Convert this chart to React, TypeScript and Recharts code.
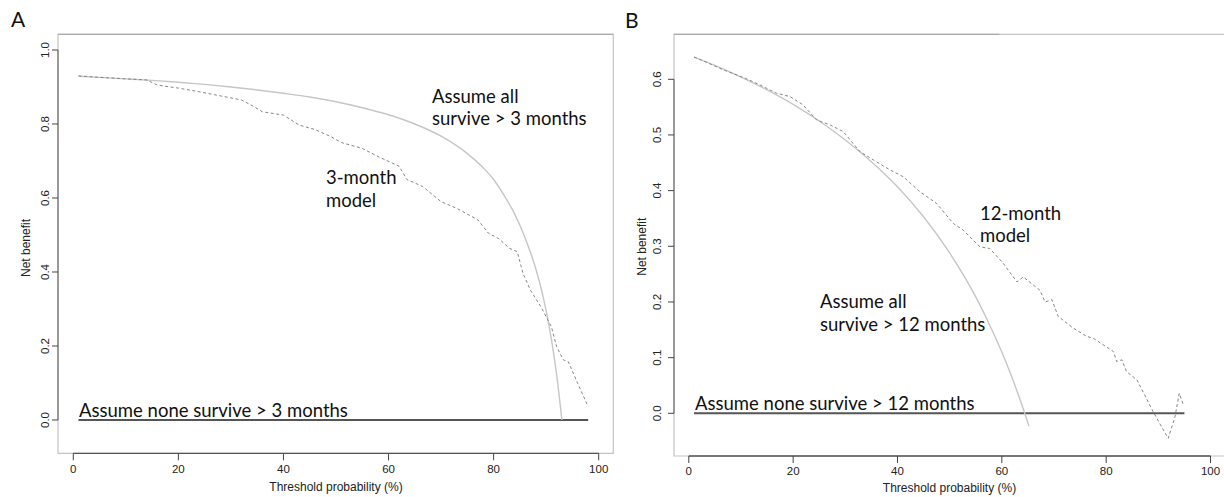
import React from "react";
import { LineChart, Line, XAxis, YAxis, ReferenceArea, ReferenceLine } from "recharts";

// ---------- Panel A (3-month) ----------
const thresholdA_all = [1, 5, 10, 15, 20, 25, 30, 35, 40, 45, 50, 55, 60, 65, 70, 75, 78, 80, 82, 84, 86, 88, 89, 90, 91, 92, 93];
const netBenefitA_all = [0.929, 0.926, 0.922, 0.918, 0.913, 0.907, 0.9, 0.892, 0.883, 0.873, 0.86, 0.844, 0.825, 0.8, 0.767, 0.72, 0.682, 0.65, 0.607, 0.557, 0.492, 0.41, 0.358, 0.295, 0.218, 0.122, 0.0];

const thresholdA_model = [1, 5, 10, 14, 16, 20, 24, 28, 32, 34, 36, 40, 43, 46, 49, 51, 55, 58, 62, 63.5, 66.5, 70, 73, 77, 79, 81, 83, 84.5, 85.6, 87, 89, 91, 92, 93.3, 94.2, 96, 98];
const netBenefitA_model = [0.93, 0.926, 0.922, 0.919, 0.905, 0.897, 0.887, 0.876, 0.865, 0.85, 0.833, 0.824, 0.797, 0.785, 0.766, 0.75, 0.734, 0.712, 0.686, 0.65, 0.631, 0.59, 0.572, 0.541, 0.505, 0.49, 0.464, 0.455, 0.396, 0.351, 0.306, 0.252, 0.198, 0.162, 0.158, 0.099, 0.036];

const thresholdA_none = [1, 98];
const netBenefitA_none = [0, 0];

const xTicksA = [0, 20, 40, 60, 80, 100];
const yTicksA = [0, 0.2, 0.4, 0.6, 0.8, 1.0];

// ---------- Panel B (12-month) ----------
const thresholdB_all = [1, 5, 10, 15, 20, 25, 30, 35, 40, 45, 50, 55, 58, 60, 62, 64, 65.2];
const netBenefitB_all = [0.64, 0.625, 0.604, 0.581, 0.555, 0.525, 0.491, 0.452, 0.407, 0.353, 0.288, 0.209, 0.152, 0.11, 0.063, 0.011, -0.023];

const thresholdB_model = [1, 4, 6.6, 10.8, 13.6, 16.8, 19.4, 21.9, 24.5, 27.1, 29.6, 32.8, 35.4, 38.6, 41.1, 44.3, 47.5, 50.7, 52.6, 55.8, 57.7, 60.3, 62.9, 64.1, 67.3, 68.3, 69.6, 70.8, 73.7, 76.3, 77.5, 81.4, 82, 83, 83.9, 85.9, 89, 90.6, 91.9, 93.2, 94, 94.8];
const netBenefitB_model = [0.64, 0.628, 0.617, 0.602, 0.59, 0.575, 0.569, 0.554, 0.527, 0.518, 0.506, 0.47, 0.455, 0.437, 0.425, 0.398, 0.377, 0.341, 0.329, 0.299, 0.296, 0.269, 0.236, 0.245, 0.221, 0.2, 0.204, 0.174, 0.153, 0.138, 0.135, 0.111, 0.093, 0.096, 0.075, 0.06, 0.003, -0.024, -0.045, -0.006, 0.036, 0.015];

const thresholdB_none = [1, 95];
const netBenefitB_none = [0, 0];

const xTicksB = [0, 20, 40, 60, 80, 100];
const yTicksB = [0, 0.1, 0.2, 0.3, 0.4, 0.5, 0.6];

const toRows = (xs: number[], ys: number[]) => xs.map((x, i) => ({ x, y: ys[i] }));

const TICK_FONT = "'Liberation Sans', Arial, sans-serif";
const ANN_FONT = "Lato, 'Open Sans', sans-serif";

const makeYTick = (dx: number) => (props: any) => {
  const { x, y, payload } = props;
  const bx = x + dx;
  return (
    <text
      x={bx}
      y={y}
      transform={`rotate(-90 ${bx} ${y})`}
      textAnchor="middle"
      fontSize={11.5}
      fontFamily={TICK_FONT}
      fill="#222"
    >
      {Number(payload.value).toFixed(1)}
    </text>
  );
};

interface PanelProps {
  left: number;
  width: number;
  margin: { top: number; right: number; bottom: number; left: number };
  yAxisWidth: number;
  xAxisHeight: number;
  xDomain: [number, number];
  yDomain: [number, number];
  xTicks: number[];
  yTicks: number[];
  all: { x: number; y: number }[];
  model: { x: number; y: number }[];
  none: { x: number; y: number }[];
  yAxisTop: number;
  yTickDx: number;
  xTickMargin: number;
  topDark: number;
}

function Panel(p: PanelProps) {
  return (
    <div style={{ position: "absolute", left: p.left, top: 0 }}>
      <LineChart width={p.width} height={497} margin={p.margin}>
        <XAxis
          type="number"
          dataKey="x"
          domain={p.xDomain}
          ticks={p.xTicks}
          allowDataOverflow
          axisLine={false}
          tickLine={{ stroke: "#444", strokeWidth: 1 }}
          tickSize={7}
          tickMargin={p.xTickMargin}
          height={p.xAxisHeight}
          tick={{ fontSize: 11.5, fontFamily: TICK_FONT, fill: "#222" }}
        />
        <YAxis
          type="number"
          domain={p.yDomain}
          ticks={p.yTicks}
          allowDataOverflow
          axisLine={false}
          tickLine={{ stroke: "#444", strokeWidth: 1 }}
          tickSize={6}
          tickMargin={2}
          width={p.yAxisWidth}
          tick={makeYTick(p.yTickDx)}
        />
        <ReferenceArea
          x1={p.xDomain[0]}
          x2={p.xDomain[1]}
          y1={p.yDomain[0]}
          y2={p.yDomain[1]}
          fill="none"
          stroke="#c4c4c4"
          strokeWidth={1.2}
          ifOverflow="visible"
        />
        <ReferenceLine
          segment={[
            { x: p.xDomain[0], y: p.yDomain[1] },
            { x: p.topDark, y: p.yDomain[1] },
          ]}
          stroke="#a3a3a3"
          strokeWidth={1.1}
          ifOverflow="visible"
        />
        <ReferenceLine
          segment={[
            { x: p.xDomain[0], y: 0 },
            { x: p.xDomain[0], y: p.yAxisTop },
          ]}
          stroke="#777"
          strokeWidth={1.3}
          ifOverflow="visible"
        />
        <ReferenceLine
          segment={[
            { x: 0, y: p.yDomain[0] },
            { x: 100, y: p.yDomain[0] },
          ]}
          stroke="#555"
          strokeWidth={1.3}
          ifOverflow="visible"
        />
        <Line
          data={p.none}
          dataKey="y"
          type="linear"
          stroke="#555"
          strokeWidth={2}
          dot={false}
          isAnimationActive={false}
        />
        <Line
          data={p.all}
          dataKey="y"
          type="monotone"
          stroke="#c6c6c6"
          strokeWidth={1.4}
          dot={false}
          isAnimationActive={false}
        />
        <Line
          data={p.model}
          dataKey="y"
          type="linear"
          stroke="#858585"
          strokeWidth={1}
          strokeDasharray="3 2.5"
          dot={false}
          isAnimationActive={false}
        />
      </LineChart>
    </div>
  );
}

export default function App() {
  const ann = { fontFamily: ANN_FONT, fontSize: 18.5, fill: "#111" } as const;
  const axt = { fontFamily: TICK_FONT, fontSize: 12, fill: "#222" } as const;
  return (
    <div
      style={{
        position: "absolute",
        left: 0,
        top: 0,
        width: 1224,
        height: 497,
        overflow: "hidden",
        background: "#fff",
      }}
    >
      <Panel
        left={0}
        width={620}
        margin={{ top: 34.3, right: 6.7, bottom: 0, left: 0 }}
        yAxisWidth={58}
        xAxisHeight={43.7}
        xDomain={[-2.91, 102.78]}
        yDomain={[-0.09, 1.0424]}
        xTicks={xTicksA}
        yTicks={yTicksA}
        all={toRows(thresholdA_all, netBenefitA_all)}
        model={toRows(thresholdA_model, netBenefitA_model)}
        none={toRows(thresholdA_none, netBenefitA_none)}
        yAxisTop={1.0}
        yTickDx={-1}
        xTickMargin={5}
        topDark={102.78}
      />
      <Panel
        left={620}
        width={610}
        margin={{ top: 34.3, right: 2, bottom: 0, left: 0 }}
        yAxisWidth={54}
        xAxisHeight={41}
        xDomain={[-2.837, 103.35]}
        yDomain={[-0.0767, 0.6808]}
        xTicks={xTicksB}
        yTicks={yTicksB}
        all={toRows(thresholdB_all, netBenefitB_all)}
        model={toRows(thresholdB_model, netBenefitB_model)}
        none={toRows(thresholdB_none, netBenefitB_none)}
        yAxisTop={0.6}
        yTickDx={-5}
        xTickMargin={4}
        topDark={59.5}
      />
      <svg
        width={1224}
        height={497}
        style={{ position: "absolute", left: 0, top: 0, pointerEvents: "none" }}
      >
        <text x={11} y={27} fontFamily={ANN_FONT} fontSize={21} fill="#111">A</text>
        <text x={625} y={28} fontFamily={ANN_FONT} fontSize={21} fill="#111">B</text>

        <text x={432} y={103.3} {...ann}>Assume all</text>
        <text x={432} y={125} {...ann}>survive &gt; 3 months</text>
        <text x={326} y={184} {...ann}>3-month</text>
        <text x={326} y={206.7} {...ann}>model</text>
        <text x={79} y={416.7} {...ann}>Assume none survive &gt; 3 months</text>

        <text x={980} y={220} {...ann}>12-month</text>
        <text x={980} y={241.7} {...ann}>model</text>
        <text x={820} y={307.7} {...ann}>Assume all</text>
        <text x={820} y={330.7} {...ann}>survive &gt; 12 months</text>
        <text x={695} y={410} {...ann}>Assume none survive &gt; 12 months</text>

        <text x={336} y={490.5} textAnchor="middle" {...axt}>Threshold probability (%)</text>
        <text x={949.5} y={492} textAnchor="middle" {...axt}>Threshold probability (%)</text>
        <text x={29.5} y={248} textAnchor="middle" transform="rotate(-90 29.5 248)" {...axt}>Net benefit</text>
        <text x={646} y={246.7} textAnchor="middle" transform="rotate(-90 646 246.7)" {...axt}>Net benefit</text>
      </svg>
    </div>
  );
}
